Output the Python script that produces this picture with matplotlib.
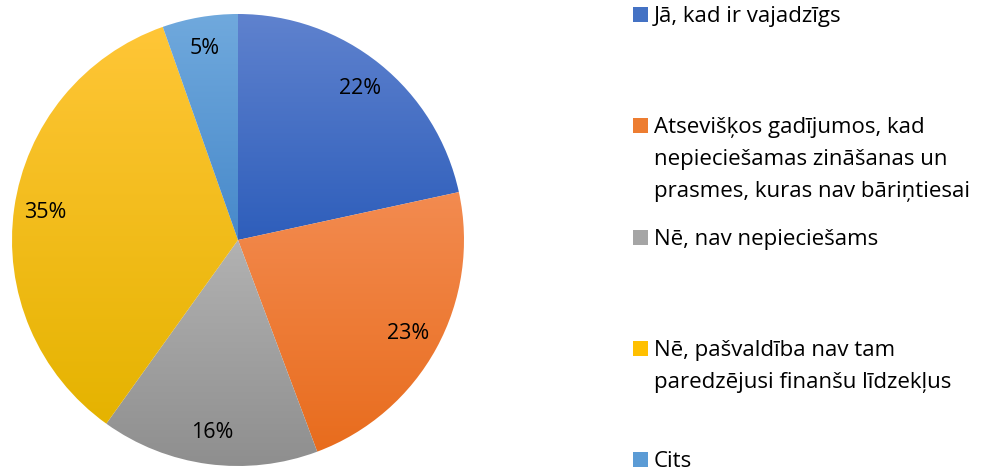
import numpy as np
import matplotlib
matplotlib.use("Agg")
import matplotlib.pyplot as plt
from matplotlib.patches import Rectangle
from matplotlib.colors import to_rgb

categories = [
    "Jā, kad ir vajadzīgs",
    "Atsevišķos gadījumos, kad\nnepieciešamas zināšanas un\nprasmes, kuras nav bāriņtiesai",
    "Nē, nav nepieciešams",
    "Nē, pašvaldība nav tam\nparedzējusi finanšu līdzekļus",
    "Cits",
]
values = [21.6, 22.7, 15.6, 34.7, 5.4]
top_colors = ["#5F82CE", "#F38B50", "#B2B2B2", "#FFC637", "#70A9DD"]
bottom_colors = ["#2E5EBB", "#E86C1D", "#8E8E8E", "#E5B300", "#4789CA"]
mid_colors = ["#4472C4", "#ED7D31", "#A5A5A5", "#FFC000", "#5B9BD5"]

FONT = "Open Sans"
W, H = 989, 475
fig = plt.figure(figsize=(W / 100, H / 100), dpi=100)

cx, cy, R = 238, 240, 226
ax = fig.add_axes([(cx - R) / W, (H - cy - R) / H, 2 * R / W, 2 * R / H])
wedges, texts, autotexts = ax.pie(
    values, startangle=90, counterclock=False, autopct="%1.0f%%",
    pctdistance=0.86, colors=mid_colors,
    wedgeprops=dict(linewidth=0.4, edgecolor="white"),
    textprops=dict(fontsize=15.5, family=FONT, color="black"),
)
ax.set_xlim(-1, 1)
ax.set_ylim(-1, 1)
ax.set_aspect("equal")
ax.axis("off")

# vertical gradient fill per wedge
for w, ct, cb in zip(wedges, top_colors, bottom_colors):
    verts = w.get_path().vertices
    x0, x1 = verts[:, 0].min(), verts[:, 0].max()
    y0, y1 = verts[:, 1].min(), verts[:, 1].max()
    t = np.linspace(0, 1, 256)[:, None]
    c_top, c_bot = np.array(to_rgb(ct)), np.array(to_rgb(cb))
    grad = c_top[None, :] * (1 - t[:, :, None]) + c_bot[None, :] * t[:, :, None]
    grad = np.repeat(grad, 2, axis=1)
    im = ax.imshow(grad, extent=[x0, x1, y0, y1], origin="upper",
                   aspect="auto", zorder=w.get_zorder() + 0.1, interpolation="bilinear")
    im.set_clip_path(w)
    w.set_facecolor("none")
for tx in autotexts:
    tx.set_zorder(10)
ax.set_xlim(-1, 1)
ax.set_ylim(-1, 1)

# legend (manual, markers aligned with first line)
first_baseline = 22
entry_step = 111.3
line_step = 32
text_x = 654
sq_x, sq = 633, 15
for i, (lab, col) in enumerate(zip(categories, mid_colors)):
    b = first_baseline + i * entry_step
    fig.patches.append(Rectangle((sq_x / W, (H - b) / H), sq / W, sq / H,
                                 transform=fig.transFigure, facecolor=col,
                                 edgecolor="none"))
    for j, line in enumerate(lab.split("\n")):
        fig.text(text_x / W, (H - (b + j * line_step)) / H, line,
                 fontsize=16, family=FONT, va="baseline", ha="left", color="black")

fig.savefig("out.png", dpi=100)
